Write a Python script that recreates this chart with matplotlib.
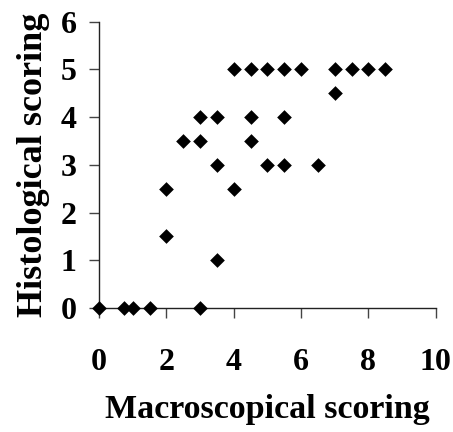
import matplotlib
matplotlib.use("Agg")
import matplotlib.pyplot as plt

# macroscopical vs histological scores
macro = [0, 0.75, 1.0, 1.5, 3.0,
         2.0, 2.0, 2.5, 3.0, 3.0, 3.5, 3.5, 3.5,
         4.0, 4.0, 4.5, 4.5, 4.5, 5.0, 5.0, 5.5, 5.5, 5.5,
         6.0, 6.5, 7.0, 7.0, 7.5, 8.0, 8.5]
histo = [0, 0, 0, 0, 0,
         2.5, 1.5, 3.5, 3.5, 4.0, 4.0, 3.0, 1.0,
         2.5, 5.0, 5.0, 4.0, 3.5, 5.0, 3.0, 5.0, 4.0, 3.0,
         5.0, 3.0, 5.0, 4.5, 5.0, 5.0, 5.0]

xticks = [0, 2, 4, 6, 8, 10]
yticks = [0, 1, 2, 3, 4, 5, 6]

plt.rcParams['font.family'] = 'Liberation Serif'
plt.rcParams['font.weight'] = 'bold'

fig = plt.figure(figsize=(4.53, 4.32), dpi=100)
ax = fig.add_axes([0.2185, 0.287, 0.7435, 0.663])
ax.scatter(macro, histo, marker='D', s=56, c='black', linewidths=0, clip_on=False, zorder=3)

ax.set_xlim(0, 10)
ax.set_ylim(0, 6)
ax.set_xticks(xticks)
ax.set_yticks(yticks)
for s in ['top', 'right']:
    ax.spines[s].set_visible(False)
for s in ['left', 'bottom']:
    ax.spines[s].set_color('#222222')
    ax.spines[s].set_linewidth(1.0)
ax.tick_params(axis='x', length=7, width=1, color='#444444', pad=22, labelsize=23)
ax.tick_params(axis='y', length=7, width=1, color='#444444', pad=9, labelsize=23)
for lab in ax.get_xticklabels() + ax.get_yticklabels():
    lab.set_fontweight('bold')

ax.set_xlabel('Macroscopical scoring', fontsize=24.5, fontweight='bold', labelpad=12)
ax.set_ylabel('Histological scoring', fontsize=26, fontweight='bold', labelpad=8)

fig.savefig('out.png', dpi=100)
